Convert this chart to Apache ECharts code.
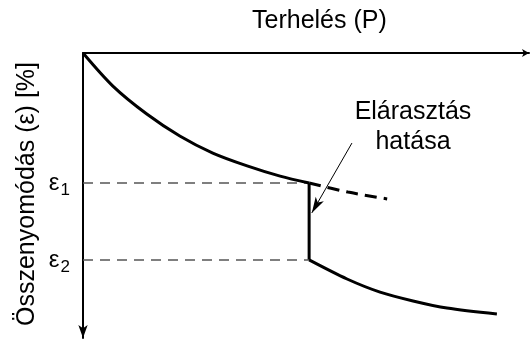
<!DOCTYPE html>
<html>
<head>
<meta charset="utf-8">
<script src="https://cdn.jsdelivr.net/npm/echarts@6/dist/echarts.min.js"></script>
<style>
  html, body { margin: 0; padding: 0; background: #fff; }
  #chart { width: 531px; height: 343px; }
</style>
</head>
<body>
<div id="chart"></div>
<script>
// Load P (x) and compression ε (y, grows downward), arbitrary units 0..10
const loadLoading = [0, 0.67, 1.43, 2.17, 2.91, 3.68, 4.42, 5.07];
const strainLoading = [0, 1.16, 2.14, 2.91, 3.51, 3.96, 4.32, 4.56];

// hypothetical continuation without flooding
const loadDry = [5.07, 5.94, 6.82];
const strainDry = [4.56, 4.88, 5.12];

// after flooding
const loadWet = [5.07, 5.92, 6.66, 7.40, 8.16, 9.28];
const strainWet = [7.26, 7.93, 8.39, 8.70, 8.95, 9.16];

const floodLoad = 5.07;
const eps1 = 4.56;
const eps2 = 7.26;
const strainTicks = [eps1, eps2];
const strainTickNames = ['1', '2'];

// annotation arrow: from label towards the drop
const arrowFrom = [6.03, 3.16];
const arrowTo = [5.13, 5.61];

const FONT = 'Liberation Sans';
const pair = (xs, ys) => xs.map((x, i) => [x, ys[i]]);

const chart = echarts.init(document.getElementById('chart'), null, { renderer: 'canvas' });

chart.setOption({
  animation: false,
  backgroundColor: '#fff',
  grid: { left: 83, top: 53, width: 446, height: 285, containLabel: false },
  xAxis: {
    type: 'value', position: 'top', min: 0, max: 10,
    axisLine: { show: true, onZero: false, symbol: ['none', 'arrow'], symbolSize: [6, 7],
      lineStyle: { color: '#000', width: 2 } },
    axisTick: { show: false }, axisLabel: { show: false }, splitLine: { show: false }
  },
  yAxis: {
    type: 'value', inverse: true, min: 0, max: 10,
    axisLine: { show: true, onZero: false, symbol: ['arrow', 'none'], symbolSize: [7, 13],
      lineStyle: { color: '#000', width: 2 } },
    axisTick: { show: false }, splitLine: { show: false },
    axisLabel: {
      show: true, customValues: strainTicks, margin: 13, align: 'right',
      formatter: (v) => {
        const i = strainTicks.indexOf(v);
        return '{e|ε}{s|' + (i >= 0 ? strainTickNames[i] : '') + '}';
      },
      rich: {
        e: { fontFamily: FONT, fontSize: 24, color: '#000' },
        s: { fontFamily: FONT, fontSize: 17, color: '#000', padding: [14, 0, 0, 1] }
      }
    }
  },
  graphic: [
    { type: 'text', left: 252, top: 9,
      style: { text: 'Terhelés (P)', font: '25px "Liberation Sans"', fill: '#000' } },
    { type: 'text', x: 27, y: 194, rotation: Math.PI / 2,
      style: { text: 'Összenyomódás (ε) [%]', font: '25px "Liberation Sans"', fill: '#000',
        align: 'center', verticalAlign: 'middle' } },
    { type: 'text', x: 413, y: 127,
      style: { text: 'Elárasztás\nhatása', font: '25px "Liberation Sans"', fill: '#000',
        align: 'center', verticalAlign: 'middle', lineHeight: 30 } }
  ],
  series: [
    {
      type: 'line', data: pair(loadLoading, strainLoading), smooth: 0.3,
      symbol: 'none', lineStyle: { color: '#000', width: 3 }, z: 5,
      markLine: {
        silent: true, symbol: 'none',
        lineStyle: { color: '#555', width: 1.5, type: [10, 7] },
        label: { show: false },
        data: [
          [{ coord: [0, eps1] }, { coord: [floodLoad, eps1] }],
          [{ coord: [0, eps2] }, { coord: [floodLoad, eps2] }]
        ]
      }
    },
    {
      type: 'line', data: pair(loadDry, strainDry), smooth: 0.3,
      symbol: 'none', lineStyle: { color: '#000', width: 3, type: [12, 7] }
    },
    {
      type: 'line', data: [[floodLoad, eps1], [floodLoad, eps2]],
      symbol: 'none', lineStyle: { color: '#000', width: 3 }
    },
    {
      type: 'line', data: pair(loadWet, strainWet), smooth: 0.3,
      symbol: 'none', lineStyle: { color: '#000', width: 3 },
      markLine: {
        silent: true, symbol: ['none', 'arrow'], symbolSize: [7, 16],
        lineStyle: { color: '#000', width: 1, type: 'solid' },
        label: { show: false },
        data: [[{ coord: arrowFrom }, { coord: arrowTo }]]
      }
    }
  ]
});
</script>
</body>
</html>
